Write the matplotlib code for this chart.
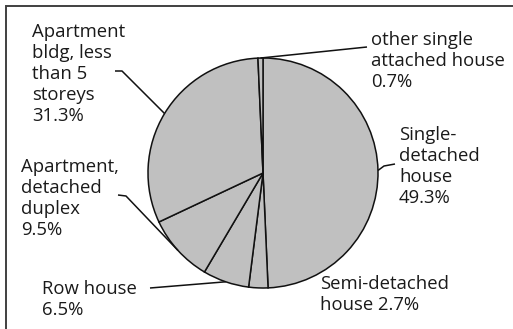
import matplotlib
matplotlib.use("Agg")
import matplotlib.pyplot as plt
import numpy as np
from matplotlib.patches import Rectangle

categories = ["Single-\ndetached\nhouse", "Semi-detached\nhouse", "Row house",
              "Apartment,\ndetached\nduplex", "Apartment\nbldg, less\nthan 5\nstoreys",
              "other single\nattached house"]
values = [49.3, 2.7, 6.5, 9.5, 31.3, 0.7]
pct_labels = ["49.3%", "2.7%", "6.5%", "9.5%", "31.3%", "0.7%"]

W, H = 513, 329
fig = plt.figure(figsize=(W / 100, H / 100), dpi=100)
ax = fig.add_axes([0, 0, 1, 1])

def P(x, y):
    return (x, H - y)

cx, cy = P(263, 173)
R = 115
wedges, _ = ax.pie(values, startangle=90, counterclock=False, center=(cx, cy), radius=R,
                   colors=["#c0c0c0"] * len(values),
                   wedgeprops=dict(edgecolor="#111111", linewidth=1.1), frame=True)
ax.set_xlim(0, W)
ax.set_ylim(0, H)
ax.set_aspect("equal")
ax.axis("off")

# label text positions (top-left, pixel coords), separator, leader start points
label_pos = [(399, 126), (320, 275), (42, 280), (21, 158), (32, 23), (371, 31)]
joiner = ["\n", " ", "\n", "\n", "\n", "\n"]
leader = [[(395, 164), (384, 166)], None, [(150, 288)],
          [(118, 195), (126, 196)], [(115, 71), (122, 71)], [(367, 47)]]

font = dict(family=["Open Sans", "DejaVu Sans"], size=13.3, color="#1a1a1a")
for i, w in enumerate(wedges):
    x, y = label_pos[i]
    ax.text(*P(x, y), categories[i] + joiner[i] + pct_labels[i], ha="left", va="top",
            linespacing=1.22, **font)
    if leader[i] is not None:
        mid = np.deg2rad((w.theta1 + w.theta2) / 2)
        ex, ey = cx + R * np.cos(mid), cy + R * np.sin(mid)
        pts = [P(*p) for p in leader[i]] + [(ex, ey)]
        xs, ys = zip(*pts)
        ax.plot(xs, ys, color="#111111", lw=1.1, solid_capstyle="butt")

ax.add_patch(Rectangle(P(6, 330), 520, 324, fill=False, edgecolor="#404040", lw=1.4,
                       clip_on=False))

fig.savefig("out.png", dpi=100)
